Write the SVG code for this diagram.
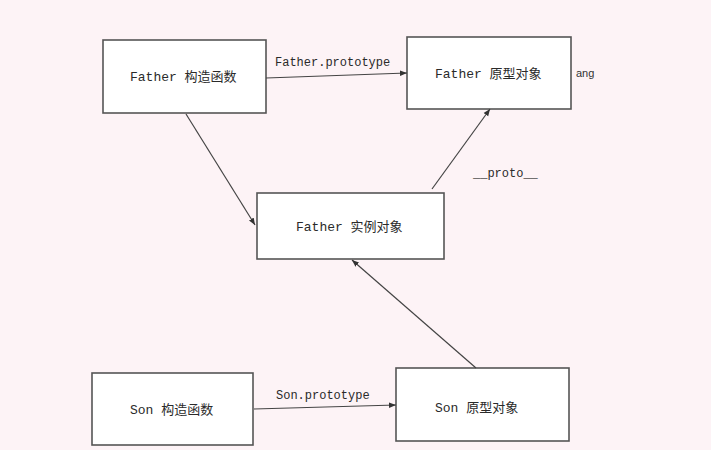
<svg xmlns="http://www.w3.org/2000/svg" width="723" height="450" viewBox="0 0 723 450">
<defs>
<marker id="ah" viewBox="0 0 10 10" refX="10" refY="5" markerWidth="7" markerHeight="7" markerUnits="userSpaceOnUse" orient="auto">
<path d="M0,1 L10,5 L0,9 z" fill="#333"/>
</marker>
</defs>
<style>
.box{fill:#ffffff;stroke:#555;stroke-width:1.6}
.t{font-family:"Liberation Mono","Noto Sans CJK SC",monospace;font-size:13px;fill:#2a2a2a}
.lbl{font-family:"Liberation Mono","Noto Sans CJK SC",monospace;font-size:12px;fill:#2a2a2a}
.edge{stroke:#444;stroke-width:1.2;fill:none;marker-end:url(#ah)}
</style>
<rect x="0" y="0" width="723" height="450" fill="#ffffff"/>
<rect x="0" y="0" width="711" height="450" fill="#fdf3f6"/>
<g id="father-ctor">
<rect class="box" x="103" y="40" width="163" height="73"/>
<text class="t" x="130" y="81">Father 构造函数</text>
</g>
<g id="father-proto">
<rect class="box" x="407" y="37" width="164" height="72"/>
<text class="t" x="435" y="78">Father 原型对象</text>
</g>
<g id="father-inst">
<rect class="box" x="257" y="193" width="187" height="66"/>
<text class="t" x="296" y="231">Father 实例对象</text>
</g>
<g id="son-ctor">
<rect class="box" x="92" y="373" width="161" height="72"/>
<text class="t" x="130" y="414">Son 构造函数</text>
</g>
<g id="son-proto">
<rect class="box" x="396" y="368" width="173" height="73"/>
<text class="t" x="435" y="412">Son 原型对象</text>
</g>
<g id="connectors">
<line class="edge" x1="266" y1="78" x2="407" y2="73"/>
<line class="edge" x1="186" y1="114" x2="255" y2="225"/>
<line class="edge" x1="432" y1="189" x2="490" y2="109"/>
<line class="edge" x1="476" y1="368" x2="352" y2="260"/>
<line class="edge" x1="254" y1="409" x2="396" y2="405"/>
<text class="lbl" x="275" y="66">Father.prototype</text>
<text class="lbl" x="473" y="177">__proto__</text>
<text class="lbl" x="276" y="399">Son.prototype</text>
</g>
<text x="576" y="77" font-family="Liberation Sans, sans-serif" font-size="11" fill="#333">ang</text>
</svg>
